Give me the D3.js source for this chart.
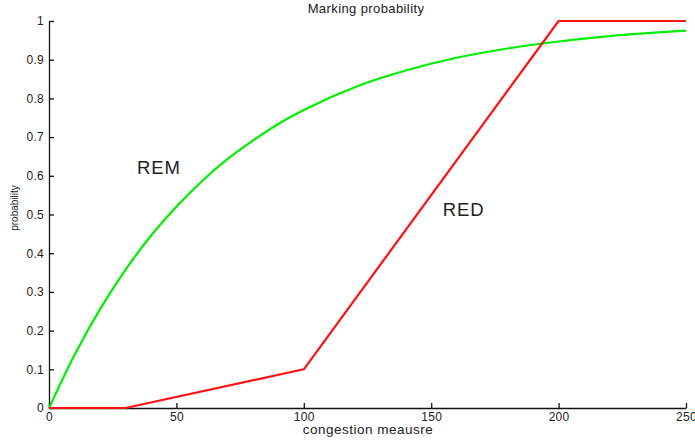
<!DOCTYPE html>
<html>
<head>
<meta charset="utf-8">
<script src="https://cdn.jsdelivr.net/npm/d3@7"></script>
<style>
  body { margin: 0; background: #fff; }
  text { font-family: "Liberation Sans", Arial, sans-serif; fill: #222; }
  .axis path, .axis line { stroke: #111; stroke-width: 1.3; }
  .axis text { font-size: 12px; letter-spacing: 0.3px; }
</style>
</head>
<body>
<div id="wrapper"></div>
<script>
// 1. data
const remX = [0, 10, 20, 30, 40, 50, 60, 70, 80, 90, 100, 120, 140, 160, 180, 200, 220, 250]
const remY = [0, 0.137, 0.255, 0.357, 0.445, 0.52, 0.586, 0.643, 0.691, 0.734, 0.77, 0.829, 0.872, 0.905, 0.929, 0.947, 0.961, 0.975]
const redX = [0, 30, 100, 200, 250]
const redY = [0, 0, 0.1, 1, 1]
const xTicks = [0, 50, 100, 150, 200, 250]
const yTicks = [0, 0.1, 0.2, 0.3, 0.4, 0.5, 0.6, 0.7, 0.8, 0.9, 1]

const remData = remX.map((x, i) => ({ x, y: remY[i] }))
const redData = redX.map((x, i) => ({ x, y: redY[i] }))

// 2. dimensions
let dimensions = {
  width: 695,
  height: 440,
  margin: { top: 21, right: 9, bottom: 32, left: 49 },
}
dimensions.boundedWidth = dimensions.width - dimensions.margin.left - dimensions.margin.right
dimensions.boundedHeight = dimensions.height - dimensions.margin.top - dimensions.margin.bottom

// 3. canvas
const wrapper = d3.select("#wrapper")
  .append("svg")
    .attr("width", dimensions.width)
    .attr("height", dimensions.height)

const bounds = wrapper.append("g")
  .attr("transform", `translate(${dimensions.margin.left}, ${dimensions.margin.top})`)

// 4. scales
const xScale = d3.scaleLinear()
  .domain([0, 250])
  .range([0, dimensions.boundedWidth])

const yScale = d3.scaleLinear()
  .domain([0, 1])
  .range([dimensions.boundedHeight, 0])

// 5. peripherals (drawn first so lines sit on top)
const xAxis = bounds.append("g")
  .attr("class", "axis")
  .attr("transform", `translate(0, ${dimensions.boundedHeight})`)
  .call(d3.axisBottom(xScale).tickValues(xTicks).tickSizeInner(-5).tickSizeOuter(0).tickPadding(6).tickFormat(d3.format("d")))
xAxis.selectAll("text").attr("dy", "0.6em")

const yAxis = bounds.append("g")
  .attr("class", "axis")
  .call(d3.axisLeft(yScale).tickValues(yTicks).tickSizeInner(-5).tickSizeOuter(0).tickPadding(5).tickFormat(d => d3.format("")(+d.toFixed(1))))

// 6. draw data
const lineGen = d3.line()
  .x(d => xScale(d.x))
  .y(d => yScale(d.y))

bounds.append("path")
  .datum(remData)
  .attr("fill", "none")
  .attr("stroke", "#00ee00")
  .attr("stroke-width", 2.2)
  .attr("d", lineGen.curve(d3.curveMonotoneX))

bounds.append("path")
  .datum(redData)
  .attr("fill", "none")
  .attr("stroke", "#ff1111")
  .attr("stroke-width", 2.2)
  .attr("stroke-linejoin", "round")
  .attr("d", lineGen.curve(d3.curveLinear))

// labels
wrapper.append("text")
  .attr("x", 366)
  .attr("y", 13)
  .attr("text-anchor", "middle")
  .style("font-size", "13px")
  .style("letter-spacing", "0.4px")
  .text("Marking probability")

wrapper.append("text")
  .attr("x", 368)
  .attr("y", 434)
  .attr("text-anchor", "middle")
  .style("font-size", "13.5px")
  .style("letter-spacing", "0.5px")
  .text("congestion meausre")

wrapper.append("text")
  .attr("transform", "translate(18, 208) rotate(-90)")
  .attr("text-anchor", "middle")
  .style("font-size", "10px")
  .text("probability")

bounds.append("text")
  .attr("x", xScale(34.5))
  .attr("y", yScale(0.605))
  .style("font-size", "18.5px")
  .style("letter-spacing", "1px")
  .text("REM")

bounds.append("text")
  .attr("x", xScale(154.5))
  .attr("y", yScale(0.495))
  .style("font-size", "18.5px")
  .style("letter-spacing", "1px")
  .text("RED")
</script>
</body>
</html>
